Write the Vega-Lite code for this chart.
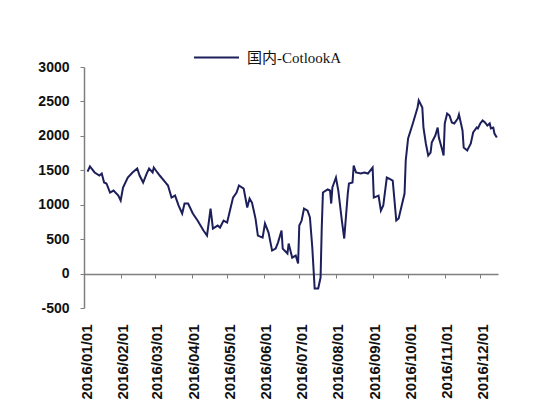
{
  "$schema": "https://vega.github.io/schema/vega-lite/v6.json",
  "width": 414,
  "height": 241,
  "autosize": {"type": "none"},
  "padding": {"left": 84, "top": 67, "right": 46, "bottom": 109},
  "background": "#ffffff",
  "config": {"view": {"stroke": null}},
  "data": {
    "values": [
      {"date": "2016/01/04", "value": 1480, "series": "国内-CotlookA"},
      {"date": "2016/01/06", "value": 1555, "series": "国内-CotlookA"},
      {"date": "2016/01/10", "value": 1468, "series": "国内-CotlookA"},
      {"date": "2016/01/14", "value": 1424, "series": "国内-CotlookA"},
      {"date": "2016/01/16", "value": 1453, "series": "国内-CotlookA"},
      {"date": "2016/01/18", "value": 1322, "series": "国内-CotlookA"},
      {"date": "2016/01/20", "value": 1308, "series": "国内-CotlookA"},
      {"date": "2016/01/23", "value": 1177, "series": "国内-CotlookA"},
      {"date": "2016/01/26", "value": 1206, "series": "国内-CotlookA"},
      {"date": "2016/01/30", "value": 1133, "series": "国内-CotlookA"},
      {"date": "2016/02/01", "value": 1061, "series": "国内-CotlookA"},
      {"date": "2016/02/03", "value": 1250, "series": "国内-CotlookA"},
      {"date": "2016/02/07", "value": 1395, "series": "国内-CotlookA"},
      {"date": "2016/02/11", "value": 1468, "series": "国内-CotlookA"},
      {"date": "2016/02/15", "value": 1526, "series": "国内-CotlookA"},
      {"date": "2016/02/17", "value": 1424, "series": "国内-CotlookA"},
      {"date": "2016/02/20", "value": 1322, "series": "国内-CotlookA"},
      {"date": "2016/02/23", "value": 1453, "series": "国内-CotlookA"},
      {"date": "2016/02/25", "value": 1526, "series": "国内-CotlookA"},
      {"date": "2016/02/28", "value": 1468, "series": "国内-CotlookA"},
      {"date": "2016/02/29", "value": 1540, "series": "国内-CotlookA"},
      {"date": "2016/03/03", "value": 1468, "series": "国内-CotlookA"},
      {"date": "2016/03/05", "value": 1424, "series": "国内-CotlookA"},
      {"date": "2016/03/10", "value": 1322, "series": "国内-CotlookA"},
      {"date": "2016/03/12", "value": 1279, "series": "国内-CotlookA"},
      {"date": "2016/03/15", "value": 1104, "series": "国内-CotlookA"},
      {"date": "2016/03/18", "value": 1133, "series": "国内-CotlookA"},
      {"date": "2016/03/21", "value": 988, "series": "国内-CotlookA"},
      {"date": "2016/03/24", "value": 872, "series": "国内-CotlookA"},
      {"date": "2016/03/26", "value": 1017, "series": "国内-CotlookA"},
      {"date": "2016/03/29", "value": 1017, "series": "国内-CotlookA"},
      {"date": "2016/04/02", "value": 872, "series": "国内-CotlookA"},
      {"date": "2016/04/06", "value": 770, "series": "国内-CotlookA"},
      {"date": "2016/04/11", "value": 625, "series": "国内-CotlookA"},
      {"date": "2016/04/14", "value": 552, "series": "国内-CotlookA"},
      {"date": "2016/04/17", "value": 944, "series": "国内-CotlookA"},
      {"date": "2016/04/19", "value": 654, "series": "国内-CotlookA"},
      {"date": "2016/04/23", "value": 697, "series": "国内-CotlookA"},
      {"date": "2016/04/25", "value": 668, "series": "国内-CotlookA"},
      {"date": "2016/04/28", "value": 770, "series": "国内-CotlookA"},
      {"date": "2016/05/01", "value": 741, "series": "国内-CotlookA"},
      {"date": "2016/05/04", "value": 959, "series": "国内-CotlookA"},
      {"date": "2016/05/06", "value": 1104, "series": "国内-CotlookA"},
      {"date": "2016/05/09", "value": 1177, "series": "国内-CotlookA"},
      {"date": "2016/05/11", "value": 1279, "series": "国内-CotlookA"},
      {"date": "2016/05/15", "value": 1235, "series": "国内-CotlookA"},
      {"date": "2016/05/18", "value": 959, "series": "国内-CotlookA"},
      {"date": "2016/05/20", "value": 1090, "series": "国内-CotlookA"},
      {"date": "2016/05/22", "value": 1032, "series": "国内-CotlookA"},
      {"date": "2016/05/25", "value": 799, "series": "国内-CotlookA"},
      {"date": "2016/05/27", "value": 552, "series": "国内-CotlookA"},
      {"date": "2016/05/31", "value": 523, "series": "国内-CotlookA"},
      {"date": "2016/06/02", "value": 727, "series": "国内-CotlookA"},
      {"date": "2016/06/05", "value": 596, "series": "国内-CotlookA"},
      {"date": "2016/06/08", "value": 334, "series": "国内-CotlookA"},
      {"date": "2016/06/11", "value": 363, "series": "国内-CotlookA"},
      {"date": "2016/06/13", "value": 450, "series": "国内-CotlookA"},
      {"date": "2016/06/16", "value": 625, "series": "国内-CotlookA"},
      {"date": "2016/06/17", "value": 363, "series": "国内-CotlookA"},
      {"date": "2016/06/21", "value": 291, "series": "国内-CotlookA"},
      {"date": "2016/06/22", "value": 436, "series": "国内-CotlookA"},
      {"date": "2016/06/25", "value": 232, "series": "国内-CotlookA"},
      {"date": "2016/06/28", "value": 262, "series": "国内-CotlookA"},
      {"date": "2016/06/30", "value": 145, "series": "国内-CotlookA"},
      {"date": "2016/07/01", "value": 697, "series": "国内-CotlookA"},
      {"date": "2016/07/03", "value": 770, "series": "国内-CotlookA"},
      {"date": "2016/07/05", "value": 944, "series": "国内-CotlookA"},
      {"date": "2016/07/08", "value": 915, "series": "国内-CotlookA"},
      {"date": "2016/07/10", "value": 814, "series": "国内-CotlookA"},
      {"date": "2016/07/12", "value": 378, "series": "国内-CotlookA"},
      {"date": "2016/07/14", "value": -218, "series": "国内-CotlookA"},
      {"date": "2016/07/17", "value": -218, "series": "国内-CotlookA"},
      {"date": "2016/07/19", "value": -58, "series": "国内-CotlookA"},
      {"date": "2016/07/20", "value": 668, "series": "国内-CotlookA"},
      {"date": "2016/07/21", "value": 1177, "series": "国内-CotlookA"},
      {"date": "2016/07/25", "value": 1221, "series": "国内-CotlookA"},
      {"date": "2016/07/27", "value": 1206, "series": "国内-CotlookA"},
      {"date": "2016/07/28", "value": 1017, "series": "国内-CotlookA"},
      {"date": "2016/07/29", "value": 1250, "series": "国内-CotlookA"},
      {"date": "2016/08/01", "value": 1395, "series": "国内-CotlookA"},
      {"date": "2016/08/03", "value": 1206, "series": "国内-CotlookA"},
      {"date": "2016/08/06", "value": 770, "series": "国内-CotlookA"},
      {"date": "2016/08/08", "value": 509, "series": "国内-CotlookA"},
      {"date": "2016/08/11", "value": 1162, "series": "国内-CotlookA"},
      {"date": "2016/08/12", "value": 1308, "series": "国内-CotlookA"},
      {"date": "2016/08/15", "value": 1322, "series": "国内-CotlookA"},
      {"date": "2016/08/16", "value": 1569, "series": "国内-CotlookA"},
      {"date": "2016/08/18", "value": 1468, "series": "国内-CotlookA"},
      {"date": "2016/08/22", "value": 1453, "series": "国内-CotlookA"},
      {"date": "2016/08/25", "value": 1468, "series": "国内-CotlookA"},
      {"date": "2016/08/28", "value": 1453, "series": "国内-CotlookA"},
      {"date": "2016/09/01", "value": 1540, "series": "国内-CotlookA"},
      {"date": "2016/09/02", "value": 1104, "series": "国内-CotlookA"},
      {"date": "2016/09/06", "value": 1133, "series": "国内-CotlookA"},
      {"date": "2016/09/08", "value": 915, "series": "国内-CotlookA"},
      {"date": "2016/09/10", "value": 988, "series": "国内-CotlookA"},
      {"date": "2016/09/13", "value": 1395, "series": "国内-CotlookA"},
      {"date": "2016/09/15", "value": 1380, "series": "国内-CotlookA"},
      {"date": "2016/09/18", "value": 1351, "series": "国内-CotlookA"},
      {"date": "2016/09/21", "value": 770, "series": "国内-CotlookA"},
      {"date": "2016/09/23", "value": 799, "series": "国内-CotlookA"},
      {"date": "2016/09/26", "value": 1017, "series": "国内-CotlookA"},
      {"date": "2016/09/28", "value": 1162, "series": "国内-CotlookA"},
      {"date": "2016/09/29", "value": 1642, "series": "国内-CotlookA"},
      {"date": "2016/10/01", "value": 1962, "series": "国内-CotlookA"},
      {"date": "2016/10/05", "value": 2180, "series": "国内-CotlookA"},
      {"date": "2016/10/09", "value": 2412, "series": "国内-CotlookA"},
      {"date": "2016/10/10", "value": 2514, "series": "国内-CotlookA"},
      {"date": "2016/10/13", "value": 2412, "series": "国内-CotlookA"},
      {"date": "2016/10/14", "value": 2121, "series": "国内-CotlookA"},
      {"date": "2016/10/16", "value": 1889, "series": "国内-CotlookA"},
      {"date": "2016/10/18", "value": 1715, "series": "国内-CotlookA"},
      {"date": "2016/10/20", "value": 1758, "series": "国内-CotlookA"},
      {"date": "2016/10/21", "value": 1903, "series": "国内-CotlookA"},
      {"date": "2016/10/24", "value": 2005, "series": "国内-CotlookA"},
      {"date": "2016/10/26", "value": 2121, "series": "国内-CotlookA"},
      {"date": "2016/10/27", "value": 1976, "series": "国内-CotlookA"},
      {"date": "2016/10/30", "value": 1787, "series": "国内-CotlookA"},
      {"date": "2016/10/31", "value": 1715, "series": "国内-CotlookA"},
      {"date": "2016/11/01", "value": 2180, "series": "国内-CotlookA"},
      {"date": "2016/11/03", "value": 2325, "series": "国内-CotlookA"},
      {"date": "2016/11/05", "value": 2296, "series": "国内-CotlookA"},
      {"date": "2016/11/07", "value": 2194, "series": "国内-CotlookA"},
      {"date": "2016/11/09", "value": 2180, "series": "国内-CotlookA"},
      {"date": "2016/11/12", "value": 2252, "series": "国内-CotlookA"},
      {"date": "2016/11/13", "value": 2310, "series": "国内-CotlookA"},
      {"date": "2016/11/16", "value": 2078, "series": "国内-CotlookA"},
      {"date": "2016/11/17", "value": 1831, "series": "国内-CotlookA"},
      {"date": "2016/11/20", "value": 1787, "series": "国内-CotlookA"},
      {"date": "2016/11/23", "value": 1889, "series": "国内-CotlookA"},
      {"date": "2016/11/25", "value": 2049, "series": "国内-CotlookA"},
      {"date": "2016/11/28", "value": 2121, "series": "国内-CotlookA"},
      {"date": "2016/11/29", "value": 2107, "series": "国内-CotlookA"},
      {"date": "2016/12/01", "value": 2180, "series": "国内-CotlookA"},
      {"date": "2016/12/03", "value": 2223, "series": "国内-CotlookA"},
      {"date": "2016/12/05", "value": 2194, "series": "国内-CotlookA"},
      {"date": "2016/12/07", "value": 2150, "series": "国内-CotlookA"},
      {"date": "2016/12/09", "value": 2180, "series": "国内-CotlookA"},
      {"date": "2016/12/10", "value": 2107, "series": "国内-CotlookA"},
      {"date": "2016/12/12", "value": 2121, "series": "国内-CotlookA"},
      {"date": "2016/12/13", "value": 2034, "series": "国内-CotlookA"},
      {"date": "2016/12/15", "value": 1976, "series": "国内-CotlookA"}
    ]
  },
  "mark": {"type": "line", "strokeWidth": 2, "interpolate": "linear"},
  "encoding": {
    "x": {
      "field": "date",
      "type": "temporal",
      "scale": {"domain": [{"year": 2016, "month": 1, "date": 1}, {"year": 2016, "month": 12, "date": 16}]},
      "axis": {
        "title": null,
        "format": "%Y/%m/%d",
        "tickCount": {"interval": "month", "step": 1},
        "labelAngle": -90,
        "labelAlign": "right",
        "labelBaseline": "middle",
        "labelFont": "Liberation Sans",
        "labelFontSize": 15,
        "labelFontWeight": "bold",
        "labelColor": "#111111",
        "labelPadding": 46,
        "labelOffset": 2,
        "labelOverlap": false,
        "labelBound": false,
        "labelFlush": false,
        "offset": -34,
        "domain": true,
        "domainColor": "#7f7f7f",
        "domainWidth": 1.5,
        "ticks": true,
        "tickColor": "#7f7f7f",
        "tickSize": 4,
        "grid": false
      }
    },
    "y": {
      "field": "value",
      "type": "quantitative",
      "scale": {"domain": [-500, 3000], "nice": false, "zero": false},
      "axis": {
        "title": null,
        "values": [-500, 0, 500, 1000, 1500, 2000, 2500, 3000],
        "labelExpr": "toString(datum.value)",
        "labelFont": "Liberation Sans",
        "labelFontSize": 14,
        "labelFontWeight": "bold",
        "labelColor": "#111111",
        "labelPadding": 11,
        "domainColor": "#7f7f7f",
        "domainWidth": 1.5,
        "tickColor": "#7f7f7f",
        "tickSize": 4,
        "grid": false
      }
    },
    "color": {
      "field": "series",
      "type": "nominal",
      "scale": {"range": ["#1c1f5a"]},
      "legend": {
        "title": null,
        "orient": "none",
        "legendX": 109,
        "legendY": -33,
        "symbolType": "stroke",
        "symbolSize": 2025,
        "symbolStrokeWidth": 2,
        "labelOffset": 7,
        "labelFont": "Liberation Serif, Noto Sans CJK SC",
        "labelFontSize": 15,
        "labelColor": "#111111"
      }
    }
  }
}
